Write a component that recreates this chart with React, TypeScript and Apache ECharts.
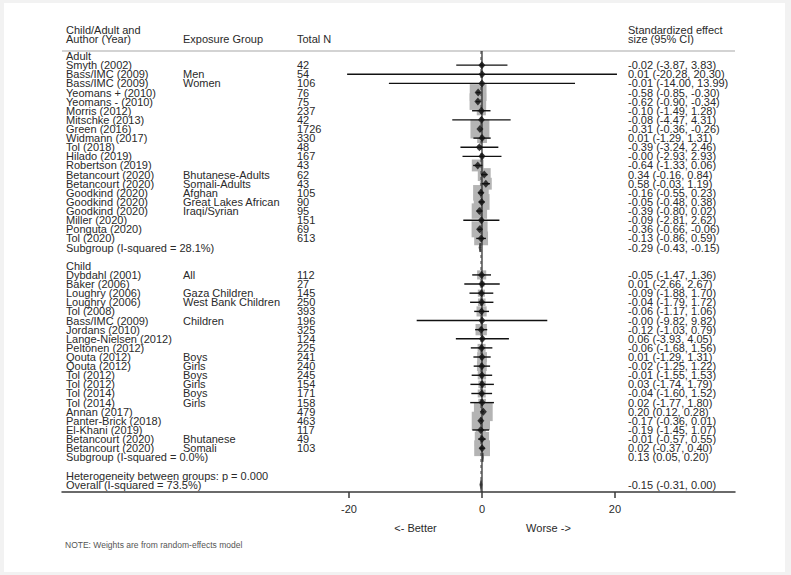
import React, { useEffect, useRef } from "react";
import * as echarts from "echarts";

// ---------------- data ----------------
const sectionLabels = ["Adult", "Child"];

const adultStudy = ["Smyth (2002)", "Bass/IMC (2009)", "Bass/IMC (2009)", "Yeomans + (2010)", "Yeomans - (2010)", "Morris (2012)", "Mitschke (2013)", "Green (2016)", "Widmann (2017)", "Tol (2018)", "Hilado (2019)", "Robertson (2019)", "Betancourt (2020)", "Betancourt (2020)", "Goodkind (2020)", "Goodkind (2020)", "Goodkind (2020)", "Miller (2020)", "Ponguta (2020)", "Tol (2020)"];
const adultGroup = ["", "Men", "Women", "", "", "", "", "", "", "", "", "", "Bhutanese-Adults", "Somali-Adults", "Afghan", "Great Lakes African", "Iraqi/Syrian", "", "", ""];
const adultN = [42, 54, 106, 76, 75, 237, 42, 1726, 330, 48, 167, 43, 62, 43, 105, 90, 95, 151, 69, 613];
const adultES = [-0.02, 0.01, -0.01, -0.58, -0.62, -0.10, -0.08, -0.31, 0.01, -0.39, -0.00, -0.64, 0.34, 0.58, -0.16, -0.05, -0.39, -0.09, -0.36, -0.13];
const adultLo = [-3.87, -20.28, -14.00, -0.85, -0.90, -1.49, -4.47, -0.36, -1.29, -3.24, -2.93, -1.33, -0.16, -0.03, -0.55, -0.48, -0.80, -2.81, -0.66, -0.86];
const adultHi = [3.83, 20.30, 13.99, -0.30, -0.34, 1.28, 4.31, -0.26, 1.31, 2.46, 2.93, 0.06, 0.84, 1.19, 0.23, 0.38, 0.02, 2.62, -0.06, 0.59];
const adultWeight = [0.2, 0.01, 0.02, 4.4, 4.3, 1.3, 0.1, 5.6, 1.5, 0.3, 0.3, 2.2, 2.6, 2.2, 3.8, 3.9, 3.7, 0.3, 4.0, 3.0];

const childStudy = ["Dybdahl (2001)", "Baker (2006)", "Loughry (2006)", "Loughry (2006)", "Tol (2008)", "Bass/IMC (2009)", "Jordans (2010)", "Lange-Nielsen (2012)", "Peltonen (2012)", "Qouta (2012)", "Qouta (2012)", "Tol (2012)", "Tol (2012)", "Tol (2014)", "Tol (2014)", "Annan (2017)", "Panter-Brick (2018)", "El-Khani (2019)", "Betancourt (2020)", "Betancourt (2020)"];
const childGroup = ["All", "", "Gaza Children", "West Bank Children", "", "Children", "", "", "", "Boys", "Girls", "Boys", "Girls", "Boys", "Girls", "", "", "", "Bhutanese", "Somali"];
const childN = [112, 27, 145, 250, 393, 196, 325, 124, 225, 241, 240, 245, 154, 171, 158, 479, 463, 117, 49, 103];
const childES = [-0.05, 0.01, -0.09, -0.04, -0.06, -0.00, -0.12, 0.06, -0.06, 0.01, -0.02, -0.01, 0.03, -0.04, 0.02, 0.20, -0.17, -0.19, -0.01, 0.02];
const childLo = [-1.47, -2.66, -1.88, -1.79, -1.17, -9.82, -1.03, -3.93, -1.68, -1.29, -1.25, -1.55, -1.74, -1.60, -1.77, 0.12, -0.36, -1.45, -0.57, -0.37];
const childHi = [1.36, 2.67, 1.70, 1.72, 1.06, 9.82, 0.79, 4.05, 1.56, 1.31, 1.22, 1.53, 1.79, 1.52, 1.80, 0.28, 0.01, 1.07, 0.55, 0.40];
const childWeight = [1.3, 0.4, 0.8, 0.9, 1.6, 0.03, 2.0, 0.15, 1.0, 1.5, 1.5, 1.1, 0.9, 1.0, 0.9, 5.5, 5.2, 1.6, 3.2, 3.9];

const subgroupLabel = ["Subgroup (I-squared = 28.1%)", "Subgroup (I-squared = 0.0%)"];
const subgroupES = [-0.29, 0.13];
const subgroupLo = [-0.43, 0.05];
const subgroupHi = [-0.15, 0.20];

const heterogeneityLabel = "Heterogeneity between groups: p = 0.000";
const overallLabel = "Overall (I-squared = 73.5%)";
const overallES = -0.15;
const overallLo = -0.31;
const overallHi = 0.0;

const tickValues = [-20, 0, 20];
const favourValues = [-10, 10];
const favourLabels = ["<- Better", "Worse ->"];

const headerStudy = ["Child/Adult and", "Author (Year)"];
const headerGroup = "Exposure Group";
const headerN = "Total N";
const headerCI = ["Standardized effect", "size (95% CI)"];
const noteText = "NOTE: Weights are from random-effects model";

// ---------------- layout / style ----------------
const FONT = '"Liberation Sans", Arial, sans-serif';
const TXT = "#2a2a2a";
const GRID_LEFT = 62;
const GRID_RIGHT_PX = 735;
const GRID_TOP = 51;
const AXIS_Y = 492;
const X_MIN = -63.16;
const X_MAX = 38.05;
const Y_MIN = -0.55;
const Y_MAX = 47.8;
const COL_STUDY = 66;
const COL_GROUP = 183;
const COL_N = 297;
const COL_CI = 628;
const BOX_K = 8;

function fmt(v: number) {
  const neg = v < 0 || Object.is(v, -0);
  return (neg ? "-" : "") + Math.abs(v).toFixed(2);
}
function ciText(e: number, l: number, h: number) {
  return `${fmt(e)} (${fmt(l)}, ${fmt(h)})`;
}

type TRow = { row: number; cols: string[] };
type SRow = { row: number; es: number; lo: number; hi: number; w: number };
type PRow = { row: number; es: number; lo: number; hi: number };

function buildRows() {
  const table: TRow[] = [];
  const studies: SRow[] = [];
  const pooled: PRow[] = [];
  const sections = [
    { st: adultStudy, gr: adultGroup, n: adultN, es: adultES, lo: adultLo, hi: adultHi, w: adultWeight },
    { st: childStudy, gr: childGroup, n: childN, es: childES, lo: childLo, hi: childHi, w: childWeight },
  ];
  let r = 0;
  sections.forEach((s, si) => {
    table.push({ row: r, cols: [sectionLabels[si], "", "", ""] });
    r++;
    s.st.forEach((name, i) => {
      table.push({ row: r, cols: [name, s.gr[i], String(s.n[i]), ciText(s.es[i], s.lo[i], s.hi[i])] });
      studies.push({ row: r, es: s.es[i], lo: s.lo[i], hi: s.hi[i], w: s.w[i] });
      r++;
    });
    table.push({ row: r, cols: [subgroupLabel[si], "", "", ciText(subgroupES[si], subgroupLo[si], subgroupHi[si])] });
    pooled.push({ row: r, es: subgroupES[si], lo: subgroupLo[si], hi: subgroupHi[si] });
    r += 2;
  });
  table.push({ row: r, cols: [heterogeneityLabel, "", "", ""] });
  r++;
  table.push({ row: r, cols: [overallLabel, "", "", ciText(overallES, overallLo, overallHi)] });
  pooled.push({ row: r, es: overallES, lo: overallLo, hi: overallHi });
  return { table, studies, pooled };
}

export default function App() {
  const ref = useRef<HTMLDivElement>(null);
  useEffect(() => {
    if (!ref.current) return;
    const chart = echarts.init(ref.current, null, { renderer: "svg" });
    const { table, studies, pooled } = buildRows();
    const textStyle = (text: string, x: number, y: number) => ({
      type: "text",
      style: {
        text,
        x,
        y,
        fill: TXT,
        font: `11px ${FONT}`,
        lineHeight: 9,
        verticalAlign: "middle",
        align: "left",
      },
    });

    const option: any = {
      animation: false,
      backgroundColor: "#f2f2f2",
      grid: {
        left: GRID_LEFT,
        right: 791 - GRID_RIGHT_PX,
        top: GRID_TOP,
        bottom: 575 - AXIS_Y,
        containLabel: false,
        outerBoundsMode: "none",
      },
      xAxis: [
        {
          type: "value",
          min: X_MIN,
          max: X_MAX,
          position: "bottom",
          axisLine: { show: true, onZero: false, lineStyle: { color: "#3a3a3a", width: 1.5 } },
          axisTick: { show: true, customValues: tickValues, length: 6, lineStyle: { color: "#3a3a3a", width: 1.5 } },
          axisLabel: { customValues: tickValues, margin: 11, fontSize: 11, color: TXT, fontFamily: FONT },
          splitLine: { show: false },
        },
        {
          type: "value",
          min: X_MIN,
          max: X_MAX,
          position: "bottom",
          axisLine: { show: false },
          axisTick: { show: false },
          axisLabel: {
            customValues: favourValues,
            margin: 30,
            fontSize: 11,
            color: TXT,
            fontFamily: FONT,
            formatter: (v: number) => (v < 0 ? favourLabels[0] : favourLabels[1]),
          },
          splitLine: { show: false },
        },
      ],
      yAxis: { type: "value", inverse: true, min: Y_MIN, max: Y_MAX, show: false },
      graphic: [
        { type: "rect", z: -100, silent: true, shape: { x: 4, y: 3, width: 781, height: 569 }, style: { fill: "#ffffff" } },
        textStyle(headerStudy[0], COL_STUDY, 30),
        textStyle(headerStudy[1], COL_STUDY, 39),
        textStyle(headerGroup, COL_GROUP, 39),
        textStyle(headerN, COL_N, 39),
        textStyle(headerCI[0], COL_CI, 30),
        textStyle(headerCI[1], COL_CI, 39),
        { type: "line", shape: { x1: GRID_LEFT, y1: GRID_TOP, x2: GRID_RIGHT_PX, y2: GRID_TOP }, style: { stroke: "#c4c4c4", lineWidth: 1.5 } },
        { type: "text", style: { text: noteText, x: 65, y: 545, fill: "#555", font: `8.5px ${FONT}`, verticalAlign: "middle" } },
      ],
      series: [
        {
          type: "custom",
          name: "boxes",
          z: 2,
          data: studies.map((s) => [s.es, s.row]),
          renderItem: (params: any, api: any) => {
            const s = studies[params.dataIndex];
            const c = api.coord([s.es, s.row]);
            const side = BOX_K * Math.sqrt(s.w);
            return { type: "rect", shape: { x: c[0] - side / 2, y: c[1] - side / 2, width: side, height: side }, style: { fill: "#b4b4b4" } };
          },
        },
        {
          type: "custom",
          name: "refLines",
          z: 3,
          data: [[0, 0], [overallES, 0]],
          renderItem: (params: any, api: any) => {
            const v = params.dataIndex === 0 ? 0 : overallES;
            const a = api.coord([v, Y_MIN]);
            const b = api.coord([v, Y_MAX]);
            return {
              type: "line",
              shape: { x1: a[0], y1: a[1], x2: b[0], y2: b[1] },
              style: params.dataIndex === 0
                ? { stroke: "#222", lineWidth: 1.2 }
                : { stroke: "#444", lineWidth: 1, lineDash: [3, 3] },
            };
          },
        },
        {
          type: "custom",
          name: "ci",
          z: 4,
          data: studies.map((s) => [s.es, s.row]),
          renderItem: (params: any, api: any) => {
            const s = studies[params.dataIndex];
            const a = api.coord([s.lo, s.row]);
            const b = api.coord([s.hi, s.row]);
            return { type: "line", shape: { x1: a[0], y1: a[1], x2: b[0], y2: b[1] }, style: { stroke: "#111", lineWidth: 1.4 } };
          },
        },
        {
          type: "custom",
          name: "pooled",
          z: 4,
          data: pooled.map((p) => [p.es, p.row]),
          renderItem: (params: any, api: any) => {
            const p = pooled[params.dataIndex];
            const l = api.coord([p.lo, p.row]);
            const c = api.coord([p.es, p.row]);
            const h = api.coord([p.hi, p.row]);
            const half = 4.5;
            return {
              type: "polygon",
              shape: { points: [[l[0], l[1]], [c[0], c[1] - half], [h[0], h[1]], [c[0], c[1] + half]] },
              style: { fill: "#333", stroke: "#333", lineWidth: 0.8 },
            };
          },
        },
        {
          type: "scatter",
          name: "estimates",
          z: 5,
          symbol: "diamond",
          symbolSize: [7, 8],
          itemStyle: { color: "#111" },
          data: studies.map((s) => [s.es, s.row]),
        },
        {
          type: "custom",
          name: "table",
          z: 6,
          data: table.map((t) => [0, t.row]),
          renderItem: (params: any, api: any) => {
            const t = table[params.dataIndex];
            const y = api.coord([0, t.row])[1];
            const xs = [COL_STUDY, COL_GROUP, COL_N, COL_CI];
            return {
              type: "group",
              children: t.cols
                .map((txt, i) => ({ txt, x: xs[i] }))
                .filter((c) => c.txt !== "")
                .map((c) => textStyle(c.txt, c.x, y)),
            };
          },
        },
      ],
    };
    chart.setOption(option);
    return () => chart.dispose();
  }, []);
  return (
    <div style={{ position: "fixed", left: 0, top: 0, width: 791, height: 575 }}>
      <div ref={ref} style={{ width: 791, height: 575 }} />
    </div>
  );
}
